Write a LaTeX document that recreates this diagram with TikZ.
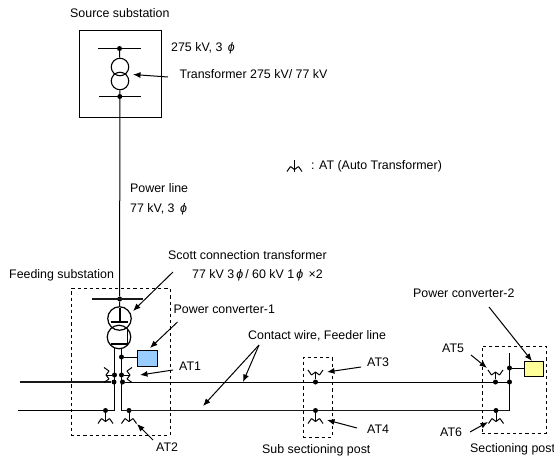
\documentclass[tikz,border=0pt]{standalone}
\usepackage{fontspec}
\setmainfont{Liberation Sans}
\usetikzlibrary{arrows.meta}
\definecolor{convblue}{RGB}{153,204,255}
\definecolor{convyellow}{RGB}{255,255,153}
\tikzset{
  x=1pt,y=-1pt,
  lbl/.style={anchor=west,inner sep=0pt,font=\fontsize{12.4}{14}\selectfont,text height=8.8,text depth=2.4},
  wire/.style={line width=1pt,draw=black},
  bus/.style={line width=1.4pt,draw=black!90},
  dotn/.style={circle,fill=black,inner sep=0pt,minimum size=5pt},
  ptr/.style={line width=1pt,-{Latex[length=7.5pt,width=6pt]}},
  dbox/.style={draw,line width=1pt,dash pattern=on 3.2pt off 3pt},
  conv/.style={draw=black,line width=1pt,inner sep=0pt},
  coil/.style={line width=1pt,draw=black},
  pics/atsym/.style={code={
    \draw[coil,rounded corners=0.4pt] (-7.5,3)--(-4,-2)--(0,1)--(4,-2)--(7.5,3);
  }}
}
\begin{document}
\begin{tikzpicture}
\useasboundingbox (0,0) rectangle (554,456);

% Source substation
\node[draw,line width=1pt,minimum width=82pt,minimum height=87pt,inner sep=0pt] (srcbox) at (120,73.5) {};
\node[dotn] (s1) at (119.5,48.5) {};
\node[dotn] (s2) at (119.8,96.5) {};
\coordinate (s1l) at (98,48.5); \coordinate (s1r) at (141,48.5);
\coordinate (s2l) at (99,96.5); \coordinate (s2r) at (141,96.5);
\draw[wire] (s1l)--(s1r);
\draw[wire] (s2l)--(s2r);
\node[circle,draw,line width=1.1pt,minimum size=17.5pt,inner sep=0pt] (t1) at (120,67) {};
\node[circle,draw,line width=1.1pt,minimum size=17.5pt,inner sep=0pt] (t2) at (120,81) {};
\draw[wire] (s1)--(t1);
\draw[wire] (t2)--(s2);

% Feeding substation
\node[dotn] (f0) at (119.7,299) {};
\coordinate (f0l) at (92,299); \coordinate (f0r) at (143,299);
\draw[bus] (f0l)--(f0r);
\draw[wire] (s2)--(f0);
\node[circle,draw,line width=1.2pt,minimum size=23.5pt,inner sep=0pt] (st1) at (119.5,318.5) {};
\node[circle,draw,line width=1.2pt,minimum size=23.5pt,inner sep=0pt] (st2) at (119,337) {};
\draw[wire] (f0)--(st1);
\coordinate (ta) at (120,308); \coordinate (tb) at (120,322);
\coordinate (tc) at (111,322); \coordinate (td) at (128,322);
\draw[line width=1.3pt] (ta)--(tb) (tc)--(td);
\coordinate (la) at (127.5,329); \coordinate (lb) at (127.5,344); \coordinate (lc) at (111,344);
\draw[line width=1.3pt] (la)--(lb)--(lc);

\node[dotn] (a1l) at (114.5,375) {};
\node[dotn] (a1r) at (121.5,375) {};
\node[dotn] (c1l) at (114,382) {};
\node[dotn] (c1r) at (122.5,382) {};
\node[dotn] (pc) at (121.5,357) {};
\node[dotn] (a2l) at (105.5,410.5) {};
\node[dotn] (a2r) at (129,410.5) {};
\coordinate (ol) at (114.5,348); \coordinate (or) at (121.5,348);
\coordinate (bl) at (114.5,410.5); \coordinate (br) at (121.5,410.5);
\coordinate (w1l) at (20,382); \coordinate (w2l) at (18,410.5);
\coordinate (w1r) at (509.5,382); \coordinate (w2r) at (509.5,410.5);
\draw[wire] (ol)--(bl)--(w2l);
\draw[wire] (or)--(br);
\draw[bus] (w1l)--(c1l);
\draw[wire] (c1r)--(w1r);
\draw[bus] (br)--(w2r);

\node[conv,fill=convblue,minimum width=20pt,minimum height=16.5pt] (bluebox) at (147,358.5) {};
\draw[wire] (pc)--(pc-|bluebox.west);

% other AT connection points
\node[dotn] (a3) at (315.5,382) {};
\node[dotn] (a4) at (315.5,410.5) {};
\node[dotn] (a5) at (495.5,382) {};
\node[dotn] (a6) at (496,410.5) {};
\node[dotn] (e1) at (509.5,368) {};
\node[dotn] (e2) at (509.5,382) {};

% AT symbols and their stems
\coordinate (d1l) at (107,375); \coordinate (d1r) at (129,375);
\coordinate (d2l) at (105.5,420.5); \coordinate (d2r) at (129,420.5);
\coordinate (d3) at (315.5,373); \coordinate (d4) at (315.5,420.5);
\coordinate (d5) at (495.5,373); \coordinate (d6) at (496,420.5);
\coordinate (legt) at (294.5,160); \coordinate (legb) at (294.5,172); \coordinate (legd) at (294.5,168.5);
\draw[wire] (a1l)--(d1l) (a1r)--(d1r) (a2l)--(d2l) (a2r)--(d2r)
            (a3)--(d3) (a4)--(d4) (a5)--(d5) (a6)--(d6) (legt)--(legb);
\pic[rotate=-90] at (d1l) {atsym};
\pic[rotate=90] at (d1r) {atsym};
\pic at (d2l) {atsym};
\pic at (d2r) {atsym};
\pic[yscale=-1] at (d3) {atsym};
\pic at (d4) {atsym};
\pic[yscale=-1] at (d5) {atsym};
\pic at (d6) {atsym};
\pic at (legd) {atsym};

% dashed regions
\node[dbox,minimum width=99pt,minimum height=146.5pt,inner sep=0pt] (fdbox) at (120.5,362) {};
\node[dbox,minimum width=29pt,minimum height=80pt,inner sep=0pt] (subbox) at (317.5,397) {};
\node[dbox,minimum width=64pt,minimum height=87pt,inner sep=0pt] (secbox) at (514,389.5) {};

% sectioning post
\coordinate (etop) at (509.5,353);
\draw[wire] (etop)--(w2r);
\node[conv,fill=convyellow,minimum width=19pt,minimum height=15pt] (yelbox) at (533.5,369) {};
\draw[wire] (e1)--(e1-|yelbox.west);

% labels
\node[lbl] (n1) at (70,14) {Source substation};
\node[lbl] (n2) at (171,48) {275 kV, 3 \,\textit{ϕ}};
\node[lbl] (n3) at (179.5,75) {Transformer 275 kV/ 77 kV};
\node[lbl] (n4) at (311,166) {: AT (Auto Transformer)};
\node[lbl] (n5) at (130,189) {Power line};
\node[lbl] (n6) at (130,209) {77 kV, 3 \,\textit{ϕ}};
\node[lbl] (n7) at (168,256.5) {Scott connection transformer};
\node[lbl] (n8) at (192,275) {77 kV 3\,\textit{ϕ}\,/ 60 kV 1\,\textit{ϕ}\, ×2};
\node[lbl] (n9) at (9,275) {Feeding substation};
\node[lbl] (n10) at (173.5,310.5) {Power converter-1};
\node[lbl] (n11) at (248,336.5) {Contact wire, Feeder line};
\node[lbl] (n12) at (413,294) {Power converter-2};
\node[lbl] (at1) at (179,367.5) {AT1};
\node[lbl] (at2) at (156,448.5) {AT2};
\node[lbl] (at3) at (367,363) {AT3};
\node[lbl] (at4) at (367,430.5) {AT4};
\node[lbl] (at5) at (442,349) {AT5};
\node[lbl] (at6) at (440,433) {AT6};
\node[lbl] (n13) at (262,450) {Sub sectioning post};
\node[lbl] (n14) at (470,449.5) {Sectioning post};

% pointers
\coordinate (pa) at (168,77);   \coordinate (pat) at (133,74.5);
\coordinate (pb) at (173,272);  \coordinate (pbt) at (133,311);
\coordinate (pc1) at (177.5,322); \coordinate (pc1t) at (150,348);
\coordinate (pd) at (173,370);  \coordinate (pdt) at (140,375);
\coordinate (pe) at (153,440);  \coordinate (pet) at (137,424);
\coordinate (pf) at (259,345);  \coordinate (pft) at (243,382); \coordinate (pgt) at (203,406);
\coordinate (ph) at (361,367);  \coordinate (pht) at (327,372);
\coordinate (pi) at (357,428);  \coordinate (pit) at (327,420);
\coordinate (pj) at (471,355);  \coordinate (pjt) at (487,368);
\coordinate (pk) at (470,432);  \coordinate (pkt) at (488,422);
\coordinate (pl) at (489,307);  \coordinate (plt) at (532,361);
\draw[ptr] (pa)--(pat);
\draw[ptr] (pb)--(pbt);
\draw[ptr] (pc1)--(pc1t);
\draw[ptr] (pd)--(pdt);
\draw[ptr] (pe)--(pet);
\draw[ptr] (pf)--(pft);
\draw[ptr] (pf)--(pgt);
\draw[ptr] (ph)--(pht);
\draw[ptr] (pi)--(pit);
\draw[ptr] (pj)--(pjt);
\draw[ptr] (pk)--(pkt);
\draw[ptr] (pl)--(plt);
\end{tikzpicture}
\end{document}
